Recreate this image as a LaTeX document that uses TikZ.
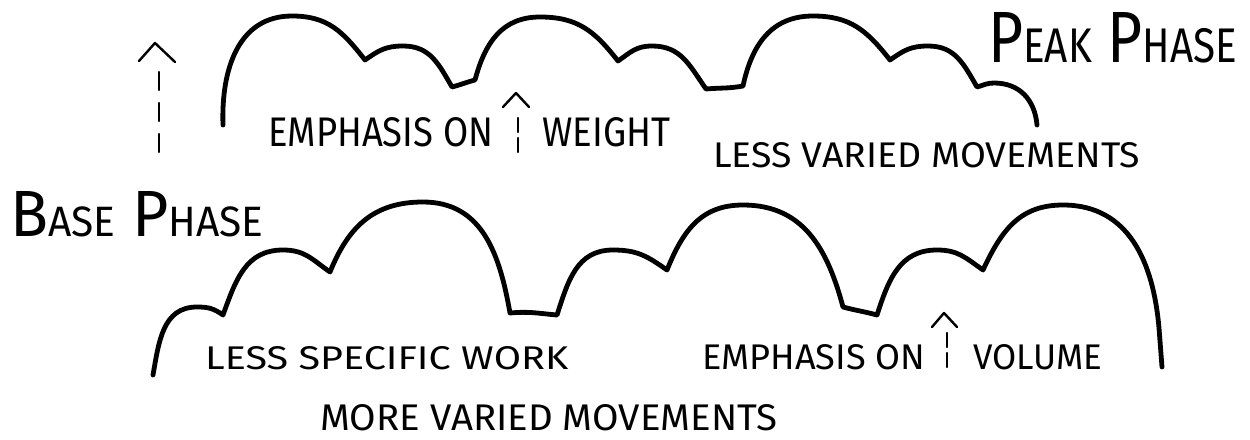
\documentclass[tikz,border=0pt]{standalone}
\usepackage{fontspec}
\setmainfont{Fira Sans}
\usepackage{graphicx}
\newcommand{\fitbox}[3]{\resizebox{#1pt}{#2pt}{#3}}
\tikzset{
  cloud/.style={line width=4.8pt, line cap=round, line join=round, looseness=1.08},
  arr/.style={line width=2.4pt, line cap=round, line join=round},
  dsh/.style={arr, dash pattern=on 14pt off 6pt},
  txt/.style={inner sep=0pt, anchor=south west}
}
\begin{document}
\begin{tikzpicture}[x=1pt,y=1pt]
\fill[white] (0,0) rectangle (1250,-439);
\useasboundingbox (0,0) rectangle (1250,-439);
% top cloud points
\coordinate (T0) at (223,-125);
\coordinate (T1) at (292,-16);
\coordinate (T2) at (365,-60);
\coordinate (T3) at (403,-46);
\coordinate (T4) at (452,-87);
\coordinate (T5) at (475,-80);
\coordinate (T6) at (540,-17);
\coordinate (T7) at (618,-61);
\coordinate (T8) at (652,-46);
\coordinate (T9) at (706,-89);
\coordinate (T10) at (743,-86);
\coordinate (T11) at (813,-16);
\coordinate (T12) at (890,-60);
\coordinate (T13) at (928,-46);
\coordinate (T14) at (977,-87);
\coordinate (T15) at (994,-83);
\coordinate (T16) at (1037,-125);
\draw[cloud] (T0) to[out=92,in=180] (T1) to[out=0,in=128] (T2)
  to[out=35,in=180] (T3) to[out=0,in=120] (T4) to[out=15,in=195] (T5)
  to[out=75,in=180] (T6) to[out=0,in=128] (T7) to[out=35,in=180] (T8)
  to[out=0,in=125] (T9) to[out=5,in=190] (T10) to[out=78,in=180] (T11)
  to[out=0,in=128] (T12) to[out=35,in=180] (T13) to[out=0,in=120] (T14)
  to[out=15,in=180] (T15) to[out=0,in=95] (T16);
% bottom cloud points
\coordinate (B0) at (153,-375);
\coordinate (B1) at (197,-307);
\coordinate (B2) at (223,-315);
\coordinate (B3) at (283,-250);
\coordinate (B4) at (330,-272);
\coordinate (B5) at (423,-202);
\coordinate (B6) at (510,-313);
\coordinate (B7) at (557,-315);
\coordinate (B8) at (613,-250);
\coordinate (B9) at (667,-270);
\coordinate (B10) at (743,-205);
\coordinate (B11) at (843,-307);
\coordinate (B12) at (877,-315);
\coordinate (B13) at (937,-250);
\coordinate (B14) at (983,-270);
\coordinate (B15) at (1063,-205);
\coordinate (B16) at (1159,-328);
\coordinate (B17) at (1162,-367);
\draw[cloud] (B0) to[out=80,in=180] (B1) to[out=0,in=145] (B2)
  to[out=70,in=180] (B3) to[out=0,in=145] (B4) to[out=68,in=180] (B5)
  to[out=0,in=100] (B6) to[out=5,in=175] (B7) to[out=72,in=180] (B8)
  to[out=0,in=145] (B9) to[out=68,in=180] (B10) to[out=0,in=105] (B11)
  to[out=-15,in=165] (B12) to[out=72,in=180] (B13) to[out=0,in=145] (B14)
  to[out=65,in=180] (B15) to[out=0,in=95] (B16) -- (B17);
% big dashed arrow
\coordinate (bigtip) at (155,-43);
\coordinate (bigL) at (139,-61);
\coordinate (bigR) at (175,-62);
\coordinate (bigtop) at (159,-72);
\coordinate (bigbot) at (159,-153);
\draw[arr] (bigL) -- (bigtip) -- (bigR);
\draw[arr, dash pattern=on 18pt off 13pt] (bigtop) -- (bigbot);
% small arrow (weight)
\coordinate (w1tip) at (516,-93);
\coordinate (w1L) at (503,-107);
\coordinate (w1R) at (529,-107);
\coordinate (w1top) at (518,-118);
\coordinate (w1bot) at (518,-152);
\draw[arr] (w1L) -- (w1tip) -- (w1R);
\draw[dsh] (w1top) -- (w1bot);
% small arrow (volume)
\coordinate (v1tip) at (944,-313);
\coordinate (v1L) at (932,-327);
\coordinate (v1R) at (957,-327);
\coordinate (v1top) at (947,-333);
\coordinate (v1bot) at (947,-372);
\draw[arr] (v1L) -- (v1tip) -- (v1R);
\draw[dsh] (v1top) -- (v1bot);
% texts
\node[txt] (peak) at (988,-63) {\fitbox{249}{50}{P\scalebox{0.67}{EAK} P\scalebox{0.67}{HASE}}};
\node[txt] (base) at (10,-237) {\fitbox{253}{45}{B\scalebox{0.65}{ASE} P\scalebox{0.65}{HASE}}};
\node[txt] (emph1) at (268,-147) {\fitbox{225}{29}{EMPHASIS ON}};
\node[txt] (weight) at (542,-147) {\fitbox{128}{29}{WEIGHT}};
\node[txt] (lessvar) at (713,-168) {\fitbox{427}{25}{LESS VARIED MOVEMENTS}};
\node[txt] (lessspec) at (205,-370) {\fitbox{363}{23}{LESS SPECIFIC WORK}};
\node[txt] (morevar) at (320,-431) {\fitbox{457}{26}{MORE VARIED MOVEMENTS}};
\node[txt] (emph2) at (702,-370) {\fitbox{223}{25}{EMPHASIS ON}};
\node[txt] (volume) at (973,-370) {\fitbox{129}{25}{VOLUME}};
\end{tikzpicture}
\end{document}
